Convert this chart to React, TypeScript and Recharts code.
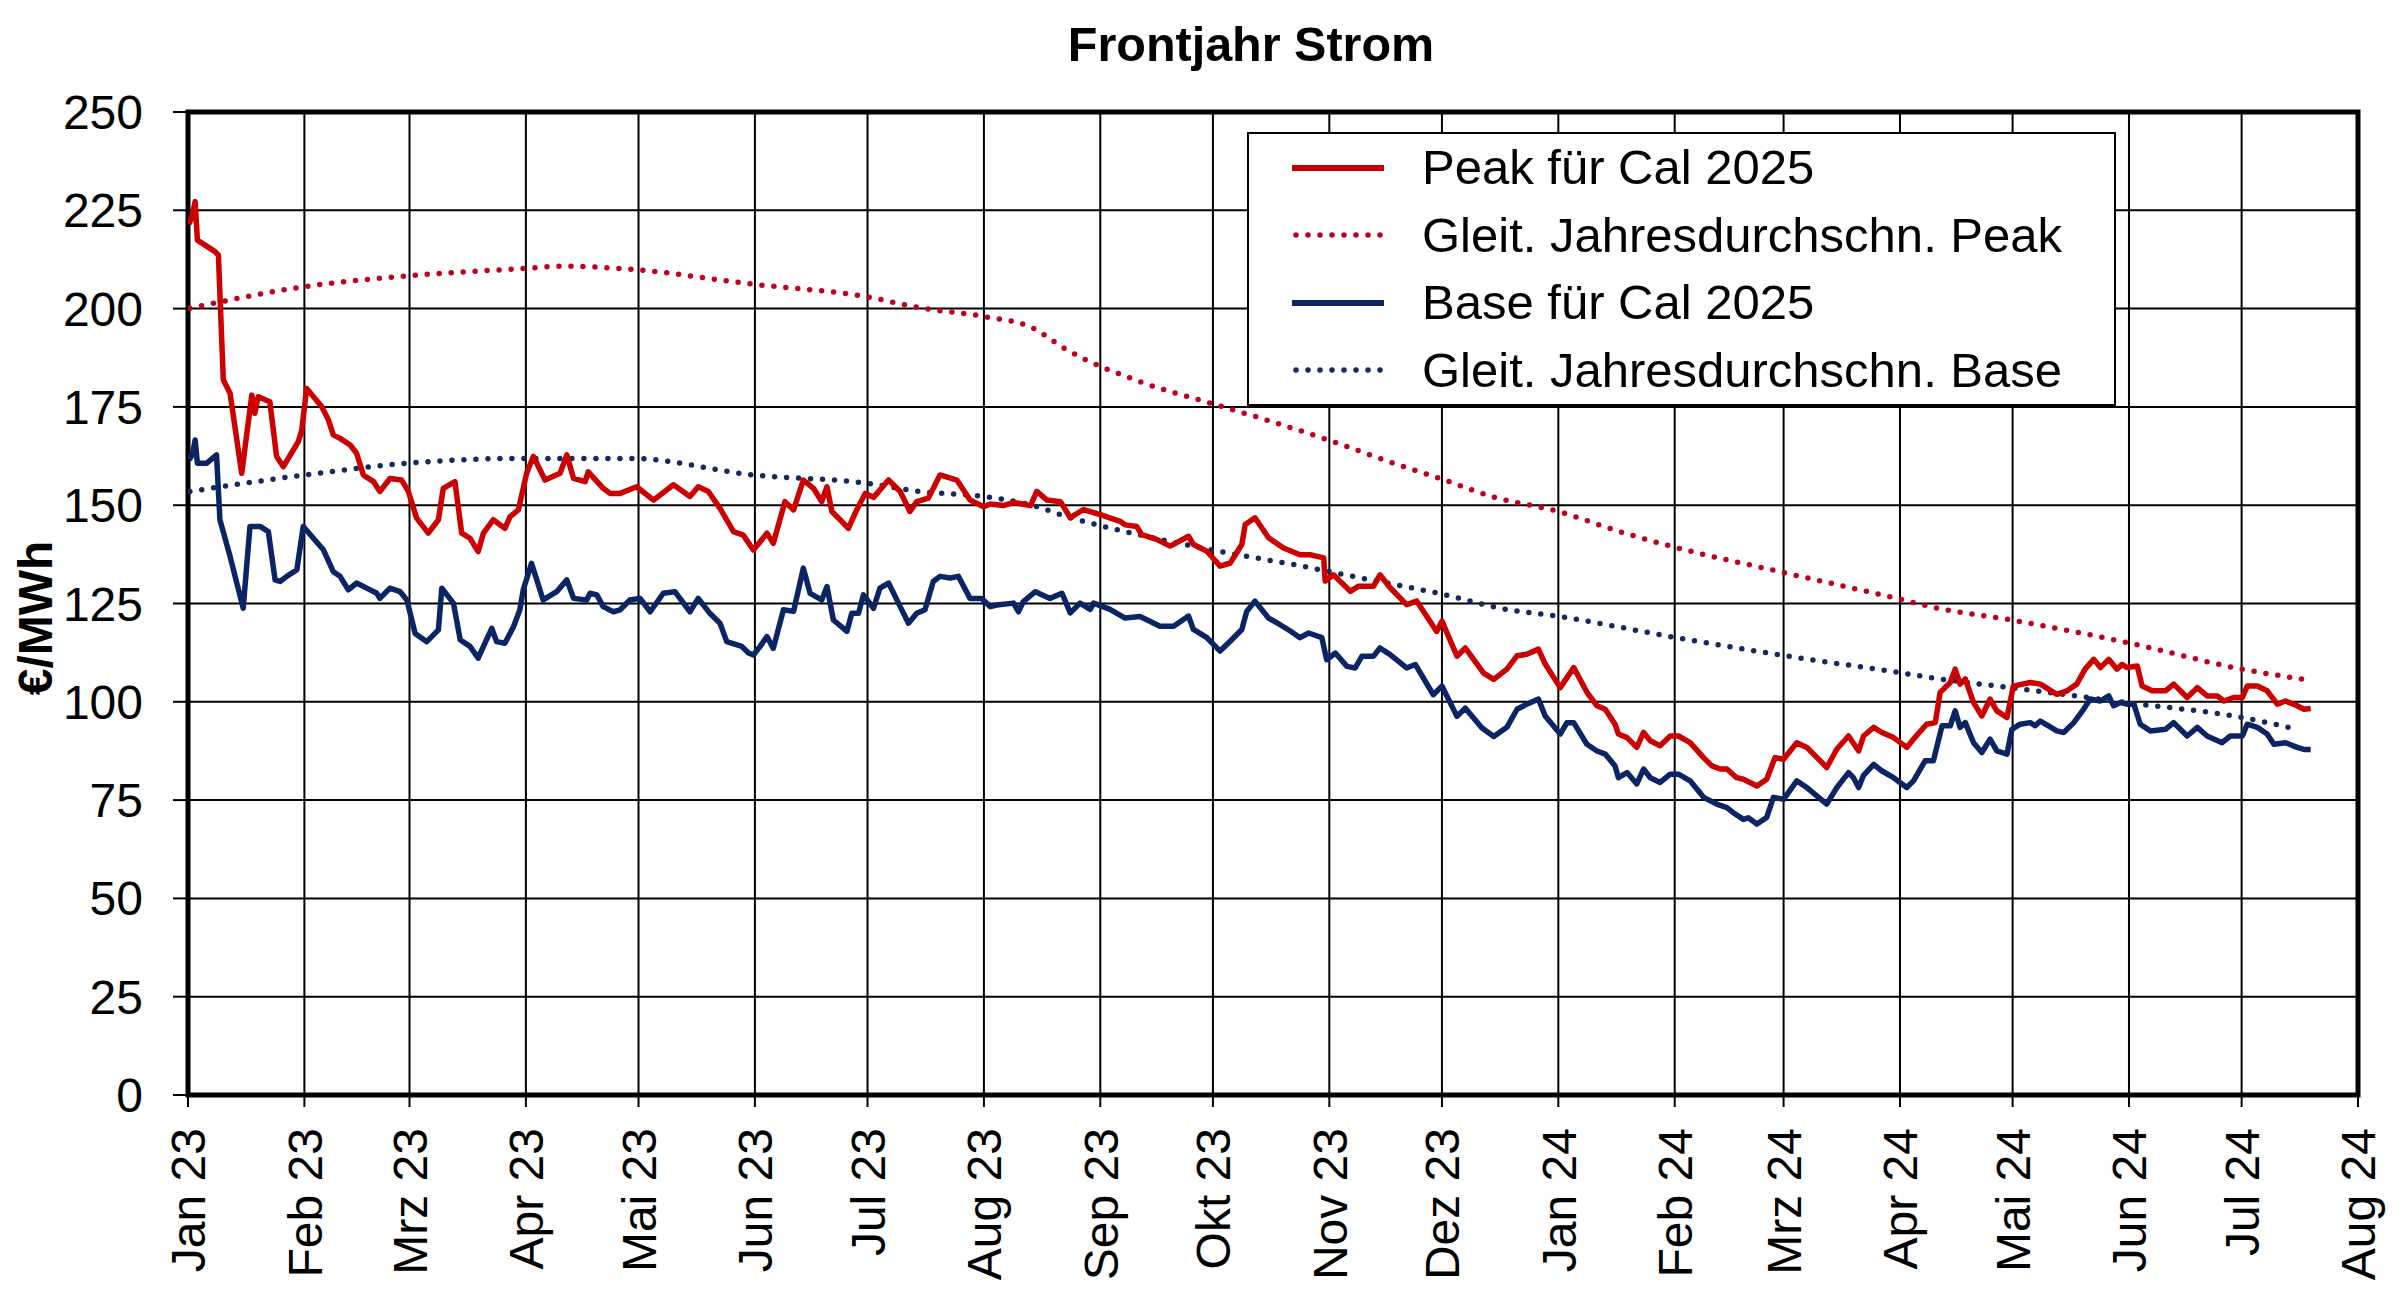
import React from 'react';
import { LineChart, Line, XAxis, YAxis, CartesianGrid, ReferenceArea, Legend } from 'recharts';

const FONT = '"Liberation Sans", Arial, Helvetica, sans-serif';

// x axis: days since 1 Jan 2023, ticks at first of month
const monthTicks = [0, 31, 59, 90, 120, 151, 181, 212, 243, 273, 304, 334, 365, 396, 425, 456, 486, 517, 547, 578];
const monthLabels = ['Jan 23', 'Feb 23', 'Mrz 23', 'Apr 23', 'Mai 23', 'Jun 23', 'Jul 23', 'Aug 23', 'Sep 23', 'Okt 23', 'Nov 23', 'Dez 23', 'Jan 24', 'Feb 24', 'Mrz 24', 'Apr 24', 'Mai 24', 'Jun 24', 'Jul 24', 'Aug 24'];
const yTicks = [0, 25, 50, 75, 100, 125, 150, 175, 200, 225, 250];

const legendLabels = ['Peak für Cal 2025', 'Gleit. Jahresdurchschn. Peak', 'Base für Cal 2025', 'Gleit. Jahresdurchschn. Base'];

const peakDays = [0.3, 1.2, 1.9, 2.5, 7.2, 8.1, 9.4, 11.2, 14.3, 17.0, 17.8, 18.7, 21.8, 23.6, 25.4, 29.4, 30.3, 31.6, 35.6, 37.4, 38.7, 40.5, 43.2, 44.9, 46.7, 49.4, 51.1, 53.8, 56.9, 58.7, 60.9, 64.0, 66.7, 68.0, 71.1, 72.9, 75.1, 77.3, 78.7, 81.3, 84.4, 85.8, 88.0, 90.2, 92.0, 95.1, 99.1, 100.9, 102.7, 105.8, 106.6, 110.6, 112.4, 115.1, 119.5, 124.0, 129.3, 133.7, 135.9, 138.6, 141.7, 145.3, 147.9, 150.6, 152.4, 154.2, 155.9, 159.0, 161.3, 163.9, 166.6, 168.8, 170.2, 171.5, 173.7, 175.9, 178.1, 180.4, 182.6, 186.6, 189.7, 192.3, 194.1, 197.2, 200.3, 204.8, 208.3, 211.9, 213.7, 217.2, 219.9, 224.4, 226.1, 228.8, 232.4, 235.0, 238.5, 243.0, 248.3, 249.6, 252.7, 254.0, 258.0, 261.6, 266.5, 267.8, 271.4, 274.9, 277.6, 280.7, 281.6, 284.2, 287.8, 291.8, 296.2, 298.9, 302.5, 302.9, 305.1, 309.6, 311.8, 315.8, 317.5, 320.2, 324.6, 327.3, 332.6, 334.0, 338.0, 340.2, 345.1, 347.8, 351.3, 354.0, 356.6, 359.7, 361.5, 365.5, 369.1, 372.7, 375.3, 377.5, 380.1, 381.0, 383.3, 385.9, 387.7, 389.5, 392.1, 394.8, 397.0, 400.1, 403.7, 405.9, 408.1, 409.9, 412.5, 414.3, 417.9, 420.5, 422.7, 425.0, 428.5, 431.2, 436.5, 439.2, 442.3, 445.0, 446.3, 449.0, 451.2, 454.3, 457.8, 459.6, 463.1, 465.4, 466.7, 469.4, 470.7, 472.0, 473.4, 475.6, 477.8, 480.0, 481.8, 484.5, 486.2, 490.7, 493.4, 497.8, 500.5, 503.1, 505.3, 507.6, 509.4, 511.6, 513.8, 515.1, 516.5, 519.2, 520.5, 523.2, 526.7, 528.9, 532.5, 535.2, 537.8, 540.5, 542.3, 544.9, 547.2, 548.5, 551.2, 553.8, 556.5, 558.7, 561.8, 563.6, 565.4];
const peakValues = [221.5, 224.0, 227.2, 217.4, 214.5, 213.6, 181.9, 178.5, 158.1, 178.0, 173.4, 177.6, 176.3, 162.4, 159.8, 166.2, 169.1, 179.7, 175.1, 171.7, 167.9, 167.0, 165.3, 163.2, 157.7, 156.0, 153.5, 156.8, 156.4, 153.5, 146.7, 142.9, 146.3, 154.3, 156.0, 142.9, 141.6, 138.2, 142.9, 146.3, 144.1, 147.1, 148.8, 158.1, 162.4, 156.4, 158.1, 162.8, 156.8, 156.0, 158.5, 154.3, 153.0, 153.0, 154.7, 151.3, 155.2, 152.2, 154.7, 153.5, 149.2, 143.3, 142.4, 138.6, 140.7, 142.9, 140.3, 150.9, 148.8, 156.4, 154.3, 150.9, 154.7, 148.4, 146.3, 144.1, 148.8, 153.0, 152.0, 156.4, 153.5, 148.4, 150.9, 151.8, 157.7, 156.4, 151.3, 149.6, 150.3, 149.9, 150.7, 149.9, 153.5, 151.3, 150.9, 146.8, 148.9, 147.6, 145.9, 145.0, 144.6, 142.5, 141.3, 139.6, 142.1, 140.0, 138.3, 134.5, 135.3, 140.0, 145.1, 146.8, 141.7, 139.1, 137.4, 137.4, 136.6, 130.7, 132.3, 128.1, 129.4, 129.4, 132.3, 129.0, 124.7, 125.6, 117.9, 120.5, 111.6, 113.7, 107.3, 105.7, 108.3, 111.7, 112.1, 113.4, 109.6, 103.6, 108.7, 102.3, 99.0, 98.1, 94.3, 91.8, 90.9, 88.4, 92.2, 90.1, 88.8, 91.3, 91.3, 89.6, 85.8, 83.7, 82.9, 82.9, 80.7, 80.3, 78.6, 80.3, 85.8, 85.4, 89.6, 88.4, 83.3, 88.0, 91.3, 87.5, 91.3, 93.5, 92.2, 90.9, 88.4, 90.5, 94.3, 94.7, 102.4, 104.9, 108.3, 104.5, 105.8, 99.8, 96.4, 100.7, 97.7, 96.0, 104.0, 104.9, 104.5, 101.9, 102.8, 104.5, 108.3, 110.8, 108.7, 110.8, 108.3, 109.5, 108.7, 109.1, 104.0, 102.8, 102.8, 104.5, 101.1, 103.6, 101.5, 101.5, 100.2, 101.1, 101.1, 104.0, 104.0, 102.8, 99.4, 100.2, 99.0, 98.1, 98.3];

const baseDays = [0.3, 1.2, 1.9, 2.5, 5.0, 7.6, 8.5, 11.2, 14.7, 16.5, 19.2, 21.4, 23.2, 24.5, 26.3, 29.0, 30.7, 36.1, 38.7, 40.5, 42.7, 44.9, 47.6, 50.3, 51.1, 53.8, 56.5, 58.3, 60.5, 63.6, 66.7, 67.6, 70.7, 72.5, 75.1, 77.3, 78.7, 80.9, 82.2, 84.4, 86.7, 88.4, 89.3, 91.5, 94.6, 98.2, 100.9, 102.7, 106.2, 107.1, 108.9, 110.6, 113.3, 115.1, 117.7, 120.4, 123.1, 126.6, 129.7, 133.7, 135.9, 139.0, 141.7, 143.5, 147.5, 149.3, 150.6, 152.4, 154.2, 155.9, 158.6, 161.3, 163.9, 165.7, 168.8, 170.2, 171.9, 175.5, 176.8, 178.6, 179.9, 182.6, 184.3, 186.6, 189.7, 191.9, 194.1, 196.3, 198.5, 200.3, 203.0, 205.2, 208.3, 211.4, 213.7, 215.4, 219.9, 221.2, 222.5, 225.7, 229.6, 232.8, 235.0, 237.6, 240.3, 241.2, 245.6, 249.6, 253.6, 258.9, 262.5, 266.5, 267.8, 271.4, 274.9, 277.6, 280.7, 282.0, 284.2, 287.8, 290.9, 293.6, 296.2, 298.5, 302.0, 303.3, 305.6, 308.7, 310.9, 312.7, 315.8, 317.5, 320.2, 324.6, 326.9, 331.7, 334.0, 338.0, 340.2, 344.6, 347.8, 351.3, 354.0, 356.6, 359.7, 361.5, 365.5, 367.3, 369.1, 372.6, 375.3, 377.5, 380.1, 381.0, 383.3, 385.9, 387.7, 389.5, 392.1, 394.8, 397.0, 400.1, 403.7, 407.2, 409.9, 411.6, 414.3, 415.6, 417.9, 420.5, 422.3, 425.0, 428.5, 431.2, 436.5, 439.2, 442.3, 443.6, 445.0, 446.3, 449.0, 451.2, 454.3, 457.8, 459.6, 462.7, 464.9, 467.2, 469.4, 470.7, 472.0, 473.4, 475.6, 477.8, 480.0, 481.8, 484.5, 485.8, 488.0, 490.7, 492.0, 493.4, 497.8, 499.6, 502.3, 504.9, 506.7, 509.4, 511.6, 512.9, 514.7, 516.5, 518.3, 520.0, 522.7, 526.7, 528.9, 532.5, 535.2, 537.8, 541.8, 544.0, 547.2, 548.5, 551.2, 553.8, 555.6, 558.7, 561.8, 563.6, 565.4];
const baseValues = [161.5, 163.0, 166.6, 160.7, 160.7, 162.8, 146.3, 137.0, 123.8, 144.6, 144.6, 143.3, 131.0, 130.6, 131.9, 133.6, 144.6, 138.6, 133.1, 131.9, 128.5, 130.2, 128.9, 127.6, 126.3, 128.9, 128.0, 125.9, 117.4, 115.3, 118.3, 128.9, 125.1, 115.8, 114.1, 111.1, 114.1, 118.7, 115.3, 114.9, 119.1, 123.4, 128.5, 135.2, 125.9, 128.0, 131.0, 126.3, 125.9, 127.6, 127.2, 124.2, 122.9, 123.4, 125.9, 126.3, 122.9, 127.6, 128.0, 122.9, 126.3, 122.5, 120.0, 115.3, 114.1, 112.4, 111.9, 114.1, 116.6, 113.6, 123.4, 123.0, 134.0, 127.6, 125.9, 129.3, 120.8, 117.9, 122.5, 122.5, 127.2, 123.8, 128.9, 130.2, 124.2, 120.0, 122.5, 123.4, 130.6, 131.9, 131.5, 131.9, 126.3, 126.3, 124.2, 124.6, 125.1, 122.9, 125.5, 128.0, 126.3, 127.6, 122.6, 125.1, 123.5, 125.1, 123.5, 121.3, 121.7, 119.2, 119.2, 121.8, 118.4, 116.3, 112.9, 115.4, 118.4, 123.0, 125.6, 121.3, 119.6, 118.0, 116.3, 117.5, 116.3, 110.7, 112.4, 109.0, 108.6, 111.6, 111.6, 113.7, 112.0, 108.6, 109.5, 101.8, 104.0, 96.3, 98.4, 93.4, 91.2, 93.5, 98.1, 99.4, 100.7, 96.4, 91.8, 94.7, 94.7, 89.2, 87.5, 86.7, 83.7, 80.7, 82.0, 79.1, 82.9, 80.7, 79.5, 81.6, 81.6, 79.9, 75.7, 74.0, 73.1, 71.8, 70.1, 70.5, 68.9, 70.6, 75.7, 75.2, 79.9, 78.2, 74.0, 78.2, 82.0, 80.7, 78.2, 81.3, 84.1, 82.4, 80.7, 78.2, 79.9, 85.0, 85.0, 93.9, 93.9, 97.7, 93.5, 94.7, 89.6, 87.1, 90.5, 87.5, 86.7, 93.0, 94.3, 94.7, 93.9, 95.1, 92.6, 92.2, 94.7, 98.1, 100.7, 100.2, 101.5, 99.0, 99.8, 99.4, 99.4, 94.3, 92.6, 93.0, 94.7, 91.3, 93.5, 91.3, 89.6, 91.3, 91.3, 94.3, 93.5, 91.8, 89.2, 89.6, 88.4, 87.9, 87.9];

const peakAvgDays = [0.5, 31.2, 58.3, 89.3, 100.0, 117.8, 150.6, 180.8, 195.0, 211.9, 224.3, 234.1, 254.5, 272.2, 285.5, 303.3, 321.1, 334.4, 348.0, 364.6, 382.3, 396.5, 424.9, 456.0, 466.0, 484.5, 516.4, 547.1, 563.6];
const peakAvgValues = [200.1, 205.6, 208.3, 210.2, 210.8, 210.0, 206.2, 203.0, 200.2, 198.0, 195.4, 189.5, 181.1, 176.0, 172.2, 166.7, 160.7, 156.5, 152.0, 148.5, 143.0, 139.2, 132.9, 126.1, 123.8, 121.0, 115.1, 108.3, 105.7];

const baseAvgDays = [0.5, 31.2, 60.0, 89.3, 117.8, 150.6, 180.8, 195.0, 211.9, 224.3, 234.1, 245.6, 259.0, 276.7, 294.5, 312.3, 334.4, 350.0, 364.6, 396.5, 424.9, 456.0, 466.0, 485.4, 516.4, 547.1, 561.8];
const baseAvgValues = [153.5, 157.7, 160.8, 161.9, 161.9, 157.7, 155.6, 153.5, 152.2, 150.1, 147.1, 144.2, 141.3, 137.9, 134.9, 131.5, 127.3, 123.7, 121.8, 116.3, 111.8, 107.4, 105.9, 103.6, 99.8, 96.0, 93.0];

const toData = (days: number[], vals: number[]) => days.map((d, i) => ({ d, v: vals[i] }));
const peakData = toData(peakDays, peakValues);
const baseData = toData(baseDays, baseValues);
const peakAvgData = toData(peakAvgDays, peakAvgValues);
const baseAvgData = toData(baseAvgDays, baseAvgValues);

const RED = '#CC0000';
const RED_DOT = '#C0001E';
const BLUE = '#0B2464';
const BLUE_DOT = '#17295C';
const SOLID_W = 5.5;
const DOT_W = 5.5;
const DOT_DASH = '0 12';

const legendStyles = [
  { color: RED, dotted: false },
  { color: RED_DOT, dotted: true },
  { color: BLUE, dotted: false },
  { color: BLUE_DOT, dotted: true },
];

const XTick = (props: any) => {
  const { x, y, payload } = props;
  const idx = monthTicks.indexOf(payload.value);
  return (
    <text
      x={x}
      y={y}
      transform={`rotate(-90, ${x}, ${y})`}
      textAnchor="end"
      dy="0.36em"
      fontSize={48}
      fontFamily={FONT}
      fill="#000"
    >
      {idx >= 0 ? monthLabels[idx] : ''}
    </text>
  );
};

const renderLegend = () => (
  <div
    style={{
      boxSizing: 'border-box',
      width: 869,
      height: 274,
      border: '2px solid #000',
      background: '#fff',
      fontFamily: FONT,
      fontSize: 49,
      color: '#000',
    }}
  >
    {legendLabels.map((lab, i) => (
      <div key={lab} style={{ display: 'flex', alignItems: 'center', height: 67.5 }}>
        <svg width={92} height={12} style={{ marginLeft: 43, flex: 'none', display: 'block' }}>
          <line
            x1={legendStyles[i].dotted ? 4 : 0}
            y1={6}
            x2={legendStyles[i].dotted ? 90 : 92}
            y2={6}
            stroke={legendStyles[i].color}
            strokeWidth={legendStyles[i].dotted ? DOT_W : 6}
            strokeDasharray={legendStyles[i].dotted ? DOT_DASH : undefined}
            strokeLinecap={legendStyles[i].dotted ? 'round' : 'butt'}
          />
        </svg>
        <span style={{ marginLeft: 38, lineHeight: '49px', whiteSpace: 'nowrap' }}>{lab}</span>
      </div>
    ))}
  </div>
);

export default function App() {
  return (
    <div style={{ position: 'absolute', left: 0, top: 0, width: 2400, height: 1312, background: '#fff' }}>
      <LineChart width={2400} height={1312} margin={{ top: 112, right: 42, bottom: 0, left: 0 }}>
        <CartesianGrid stroke="#000" strokeWidth={2} />
        <XAxis
          type="number"
          dataKey="d"
          domain={[0, 578]}
          ticks={monthTicks}
          interval={0}
          allowDataOverflow
          height={217}
          axisLine={false}
          tickLine={{ stroke: '#000', strokeWidth: 2 }}
          tickSize={12}
          tickMargin={21}
          tick={<XTick />}
        />
        <YAxis
          type="number"
          domain={[0, 250]}
          ticks={yTicks}
          interval={0}
          width={188}
          axisLine={false}
          tickLine={{ stroke: '#000', strokeWidth: 2 }}
          tickSize={15}
          tickMargin={30}
          tick={{ fontSize: 48, fill: '#000', fontFamily: FONT }}
        />
        <ReferenceArea x1={0} x2={578} y1={0} y2={250} fill="none" fillOpacity={0} stroke="#000" strokeWidth={5} />
        <Line
          data={peakAvgData}
          dataKey="v"
          type="monotone"
          stroke={RED_DOT}
          strokeWidth={DOT_W}
          strokeDasharray={DOT_DASH}
          strokeLinecap="round"
          dot={false}
          activeDot={false}
          isAnimationActive={false}
        />
        <Line
          data={baseAvgData}
          dataKey="v"
          type="monotone"
          stroke={BLUE_DOT}
          strokeWidth={DOT_W}
          strokeDasharray={DOT_DASH}
          strokeLinecap="round"
          dot={false}
          activeDot={false}
          isAnimationActive={false}
        />
        <Line
          data={baseData}
          dataKey="v"
          type="linear"
          stroke={BLUE}
          strokeWidth={SOLID_W}
          strokeLinejoin="round"
          dot={false}
          activeDot={false}
          isAnimationActive={false}
        />
        <Line
          data={peakData}
          dataKey="v"
          type="linear"
          stroke={RED}
          strokeWidth={SOLID_W}
          strokeLinejoin="round"
          dot={false}
          activeDot={false}
          isAnimationActive={false}
        />
        <Legend
          layout="vertical"
          align="center"
          verticalAlign="middle"
          content={renderLegend}
          wrapperStyle={{ left: 1247, top: 132, width: 869, height: 274 }}
        />
      </LineChart>
      <svg
        width={2400}
        height={1312}
        style={{ position: 'absolute', left: 0, top: 0, pointerEvents: 'none' }}
      >
        <text x={1251} y={61} textAnchor="middle" fontSize={48.5} fontWeight="bold" fontFamily={FONT} fill="#000">
          Frontjahr Strom
        </text>
        <text
          transform="translate(52,618) rotate(-90)"
          textAnchor="middle"
          fontSize={48}
          fontWeight="bold"
          fontFamily={FONT}
          fill="#000"
        >
          €/MWh
        </text>
      </svg>
    </div>
  );
}
